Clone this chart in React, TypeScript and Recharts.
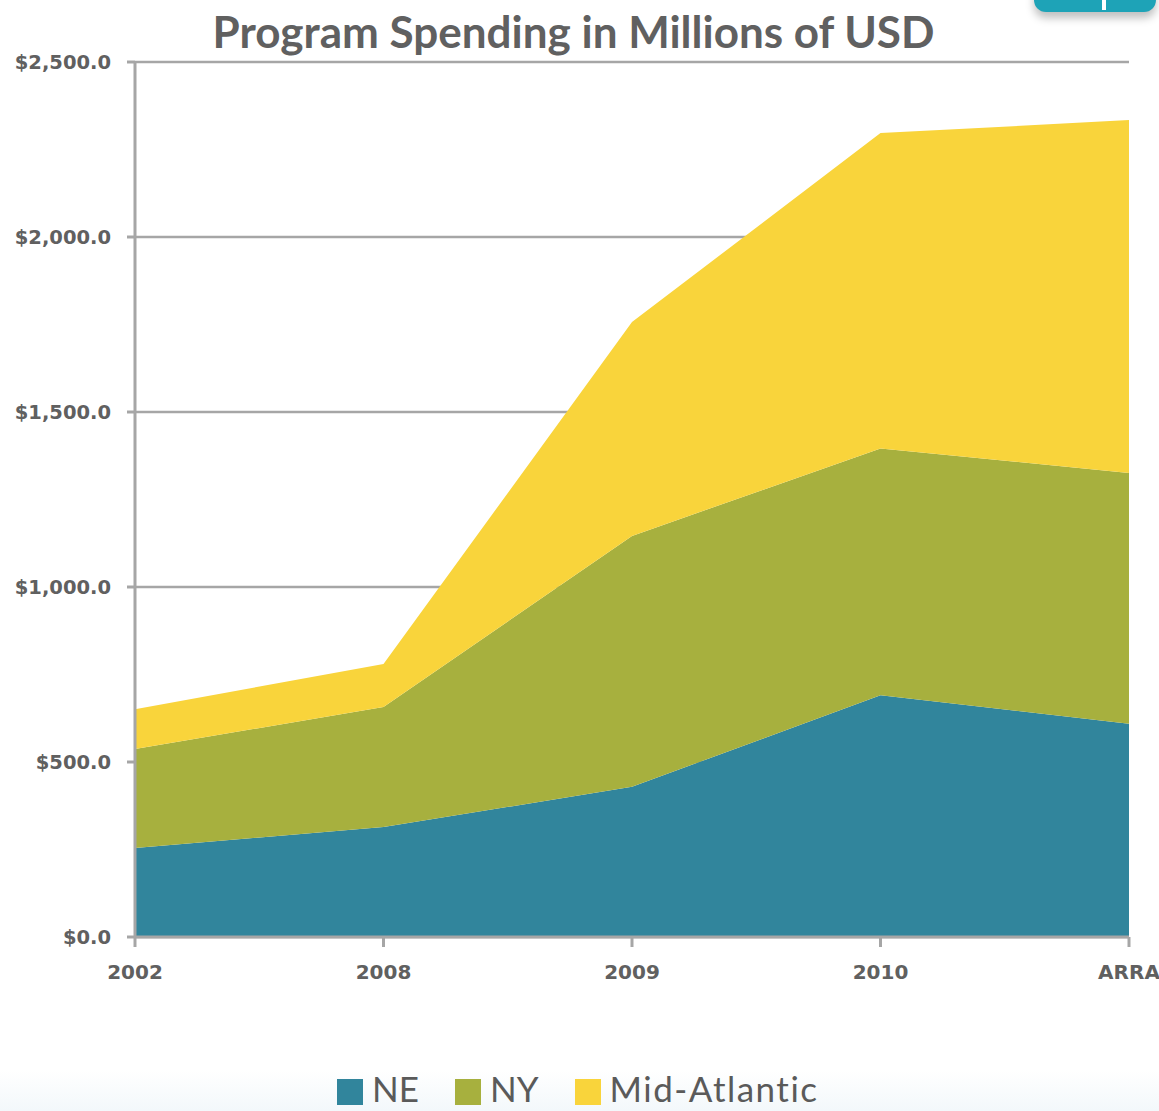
import { AreaChart, Area, CartesianGrid, XAxis, YAxis } from "recharts";

const CATEGORIES = ["2002", "2008", "2009", "2010", "ARRA"];
const NE = [254, 314, 429, 691, 609];
const NY = [283, 343, 717, 705, 717];
const MID_ATLANTIC = [114, 123, 611, 901, 1008];
const Y_TICKS = [0, 500, 1000, 1500, 2000, 2500];

const SERIES = [
  { key: "NE", values: NE, color: "#31859c" },
  { key: "NY", values: NY, color: "#a7b03e" },
  { key: "Mid-Atlantic", values: MID_ATLANTIC, color: "#f9d43b" },
];

const AXIS = "#a6a6a6";
const TEXT = "#606060";

const data = CATEGORIES.map((c, i) => {
  const row: Record<string, string | number> = { name: c };
  SERIES.forEach((s) => (row[s.key] = s.values[i]));
  return row;
});

const fmtUsd = (v: number) =>
  "$" + v.toLocaleString("en-US", { minimumFractionDigits: 1, maximumFractionDigits: 1 });

export default function App() {
  return (
    <div
      style={{
        position: "absolute",
        left: 0,
        top: 0,
        width: 1159,
        height: 1111,
        overflow: "hidden",
        background: "#fff",
      }}
    >
      {/* faint tinted band behind the legend */}
      <div
        style={{
          position: "absolute",
          left: 0,
          top: 1070,
          width: 1159,
          height: 41,
          background: "linear-gradient(#ffffff, #f3f8fb)",
        }}
      />
      {/* corner tab */}
      <div
        style={{
          position: "absolute",
          left: 1034,
          top: -20,
          width: 122,
          height: 32,
          borderRadius: 12,
          background: "#1ea3b7",
          boxShadow: "0 6px 8px rgba(0,0,0,0.25)",
        }}
      />
      <div
        style={{
          position: "absolute",
          left: 1102,
          top: 0,
          width: 4,
          height: 10,
          background: "#fff",
        }}
      />
      <div
        style={{
          position: "absolute",
          left: 0,
          top: 9,
          width: 1147,
          textAlign: "center",
          fontFamily: "Lato",
          fontWeight: 700,
          fontSize: 44,
          lineHeight: "44px",
          color: TEXT,
          whiteSpace: "nowrap",
        }}
      >
        Program Spending in Millions of USD
      </div>
      <AreaChart
        width={1159}
        height={1111}
        data={data}
        margin={{ top: 62, right: 30, left: 0, bottom: 114 }}
        style={{ position: "absolute", left: 0, top: 0 }}
      >
        <CartesianGrid vertical={false} stroke={AXIS} strokeWidth={2.5} />
        <XAxis
          dataKey="name"
          height={60}
          stroke={AXIS}
          strokeWidth={3}
          tickSize={10}
          tickMargin={18}
          tick={{ fill: TEXT, fontSize: 20, fontFamily: "DejaVu Sans", fontWeight: 700 }}
          interval={0}
        />
        <YAxis
          width={135}
          domain={[0, 2500]}
          ticks={Y_TICKS}
          stroke={AXIS}
          strokeWidth={3}
          tickSize={8}
          tickMargin={16}
          tickFormatter={fmtUsd}
          tick={{ fill: TEXT, fontSize: 19.5, fontFamily: "DejaVu Sans", fontWeight: 700 }}
        />
        {SERIES.map((s) => (
          <Area
            key={s.key}
            type="linear"
            dataKey={s.key}
            stackId="1"
            stroke="none"
            fill={s.color}
            fillOpacity={1}
            isAnimationActive={false}
          />
        ))}
      </AreaChart>
      <div
        style={{
          position: "absolute",
          left: 337,
          top: 1067,
          display: "flex",
          fontFamily: "Lato",
          fontSize: 35,
          lineHeight: "42px",
          color: "#5a5a5a",
          whiteSpace: "nowrap",
        }}
      >
        {SERIES.map((s) => (
          <div key={s.key} style={{ display: "flex", marginRight: 36 }}>
            <div
              style={{
                width: 26,
                height: 26,
                marginTop: 12,
                marginRight: 9,
                background: s.color,
              }}
            />
            <span style={{ letterSpacing: s.key.length > 2 ? 1.5 : 0 }}>{s.key}</span>
          </div>
        ))}
      </div>
    </div>
  );
}
